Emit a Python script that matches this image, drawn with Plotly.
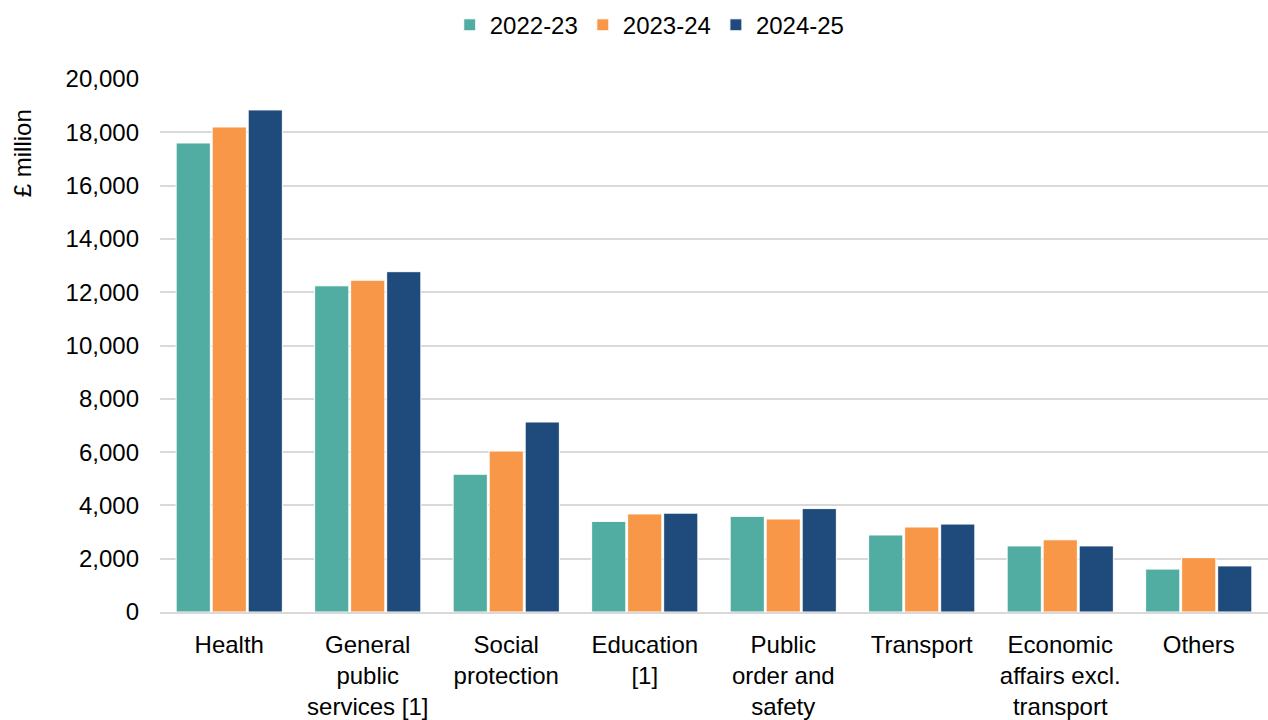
import plotly.graph_objects as go

categories = ["Health", "General<br>public<br>services [1]", "Social<br>protection", "Education<br>[1]",
              "Public<br>order and<br>safety", "Transport", "Economic<br>affairs excl.<br>transport", "Others"]
series_names = ["2022-23", "2023-24", "2024-25"]
v_2022_23 = [17600, 12240, 5170, 3400, 3590, 2890, 2480, 1610]
v_2023_24 = [18200, 12450, 6040, 3680, 3490, 3190, 2710, 2040]
v_2024_25 = [18840, 12770, 7130, 3710, 3880, 3300, 2480, 1730]
colors = ["#51ACA2", "#F79747", "#1F4A7C"]
y_ticks = [0, 2000, 4000, 6000, 8000, 10000, 12000, 14000, 16000, 18000, 20000]

fig = go.Figure()
for name, vals, c in zip(series_names, [v_2022_23, v_2023_24, v_2024_25], colors):
    fig.add_trace(go.Bar(x=categories, y=vals, name=name,
                         marker=dict(color=c, line=dict(color="white", width=1))))

font = "Liberation Sans, Arial, sans-serif"
fig.update_layout(
    width=1268, height=720,
    margin=dict(l=160, r=0, t=79, b=108),
    plot_bgcolor="white", paper_bgcolor="white",
    barmode="group", bargap=0.22, bargroupgap=0.05,
    font=dict(family=font, size=24, color="black"),
    legend=dict(orientation="h", x=0.442, xanchor="center", y=0.965, yanchor="middle",
                yref="container", font=dict(size=24), traceorder="normal"),
    xaxis=dict(showline=True, linecolor="#D9D9D9", linewidth=2, ticks="", tickfont=dict(size=24),
               tickangle=0, automargin=False, ticklabelstandoff=10),
    yaxis=dict(range=[0, 20000], tickvals=y_ticks, tickformat=",", showgrid=True,
               gridcolor="#D9D9D9", gridwidth=2, zeroline=False, ticks="", ticklen=0,
               tickfont=dict(size=24), automargin=False, ticklabelstandoff=20),
    annotations=[dict(text="£ million", xref="paper", yref="paper", x=-0.124, y=0.86,
                      xanchor="center", yanchor="middle", textangle=-90, showarrow=False,
                      font=dict(size=24))],
)
fig.write_html("out.html")
